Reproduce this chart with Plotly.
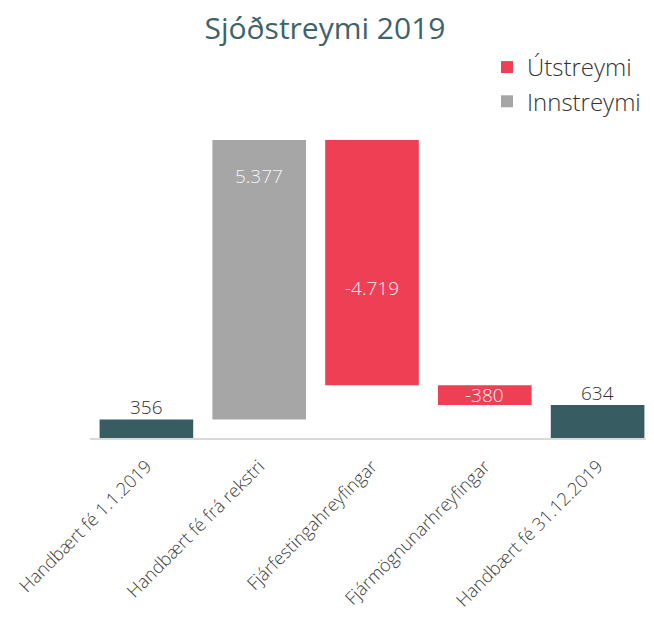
import plotly.graph_objects as go

# ---- data ----
categories = [
    "Handbært fé 1.1.2019",
    "Handbært fé frá rekstri",
    "Fjárfestingahreyfingar",
    "Fjármögnunarhreyfingar",
    "Handbært fé 31.12.2019",
]
start_balance = 356
flow_values = [5377, -4719, -380]
end_balance = 634
legend_out = "Útstreymi"
legend_in = "Innstreymi"
title_text = "Sjóðstreymi 2019"

TEAL = "#375d63"
RED = "#ef3f55"
GRAY = "#a6a6a6"
FONT = "Open Sans"


def fmt(v):
    return f"{v:,}".replace(",", ".")


# cumulative bases for the flow bars
bases = []
running = start_balance
for v in flow_values:
    bases.append(running)
    running += v

flow_cats = categories[1:4]
pos_x = [c for c, v in zip(flow_cats, flow_values) if v > 0]
pos_y = [v for v in flow_values if v > 0]
pos_b = [b for b, v in zip(bases, flow_values) if v > 0]
neg_x = [c for c, v in zip(flow_cats, flow_values) if v < 0]
neg_y = [v for v in flow_values if v < 0]
neg_b = [b for b, v in zip(bases, flow_values) if v < 0]

fig = go.Figure()

fig.add_trace(go.Bar(
    x=[categories[0], categories[4]], y=[start_balance, end_balance], base=[0, 0],
    marker=dict(color=TEAL, line=dict(width=0)), showlegend=False, width=0.83,
))
fig.add_trace(go.Bar(
    x=neg_x, y=neg_y, base=neg_b, name=legend_out,
    marker=dict(color=RED, line=dict(width=0)), width=0.83,
))
fig.add_trace(go.Bar(
    x=pos_x, y=pos_y, base=pos_b, name=legend_in,
    marker=dict(color=GRAY, line=dict(width=0)), width=0.83,
))

# page has an 8px body margin, so the figure is sized to fit the window
W, H = 646, 610
L, R, T, B = 82, 0, 122, 180

annotations = []
# value labels
lab_font_dark = dict(family=FONT, size=19, color="#333333", weight=300)
lab_font_light = dict(family=FONT, size=19, color="#f4f4f4", weight=300)
for cat, v in [(categories[0], start_balance), (categories[4], end_balance)]:
    annotations.append(dict(x=cat, y=v, text=fmt(v), showarrow=False,
                            yanchor="bottom", yshift=-3, font=lab_font_dark))
for cat, v, b in zip(pos_x, pos_y, pos_b):
    annotations.append(dict(x=cat, y=b + v, text=fmt(v), showarrow=False,
                            yanchor="middle", yshift=-36, font=lab_font_light))
for cat, v, b in zip(neg_x, neg_y, neg_b):
    shift = -25 if abs(v) > 1000 else 0
    annotations.append(dict(x=cat, y=b + v / 2, text=fmt(v), showarrow=False,
                            yanchor="middle", yshift=shift, font=lab_font_light))

fig.update_layout(
    width=W, height=H,
    margin=dict(l=L, r=R, t=T, b=B, autoexpand=False),
    paper_bgcolor="white", plot_bgcolor="white",
    barmode="overlay",
    title=dict(text=title_text, x=317 / W, xref="container", xanchor="center",
               y=1 - 20 / H, yref="container", yanchor="middle",
               font=dict(family=FONT, size=30, color="#3e636a")),
    legend=dict(x=638 / W, xref="container", xanchor="right",
                y=1 - 37 / H, yref="container", yanchor="top",
                font=dict(family=FONT, size=24, color="#333333", weight=300),
                bgcolor="rgba(0,0,0,0)", traceorder="normal"),
    xaxis=dict(type="category", categoryorder="array", categoryarray=categories,
               range=[-0.5, 4.5], showgrid=False, tickangle=-45, ticks="",
               ticklabelstandoff=9,
               tickfont=dict(family=FONT, size=18, color="#404040", weight=300),
               showline=True, linecolor="#d9d9d9", linewidth=1.5, zeroline=False,
               fixedrange=True),
    yaxis=dict(range=[0, 5925], visible=False, showgrid=False, zeroline=False),
    annotations=annotations,
    hovermode=False,
)

fig.write_html("out.html")
